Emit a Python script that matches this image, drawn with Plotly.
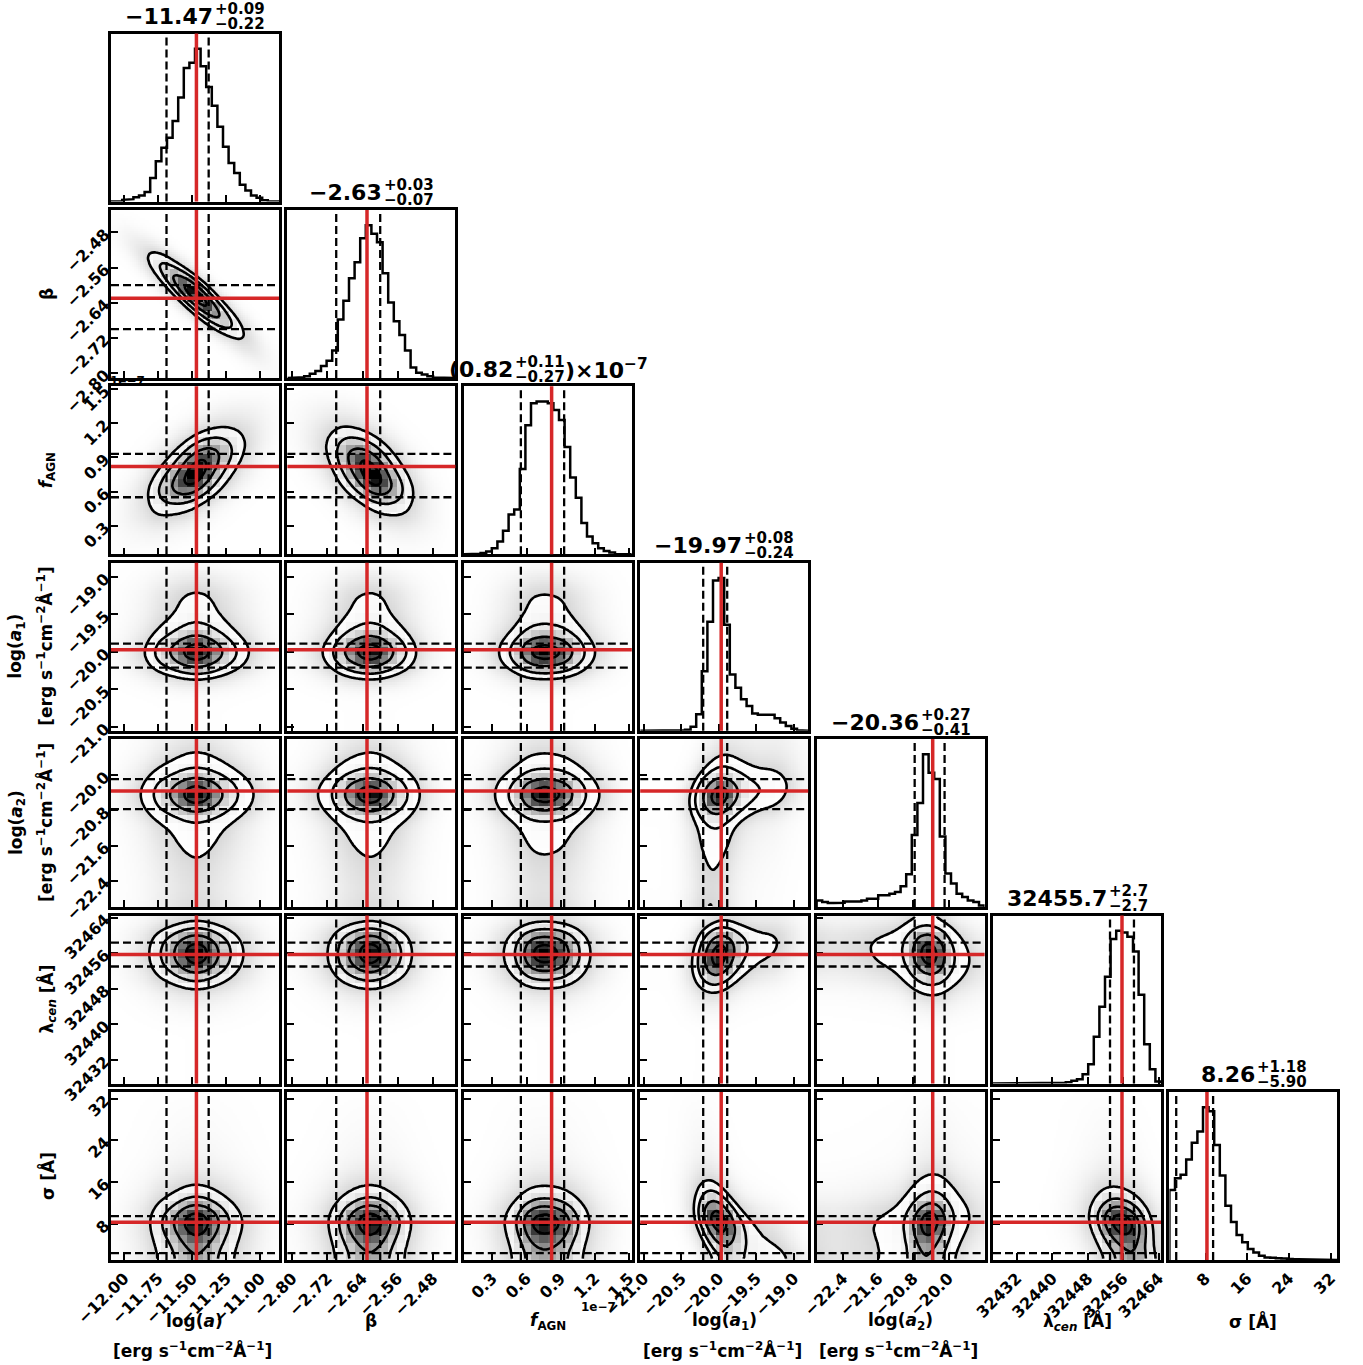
import math
import numpy as np
import plotly.graph_objects as go

W, H = 1363, 1365

# ---------------------------------------------------------------- data
# Posterior summaries: median, +err, -err (f_AGN in units of 1e-7)
MEDIANS = [-11.47, -2.63, 0.82, -19.97, -20.36, 32455.7, 8.26]
ERR_PLUS = [0.09, 0.03, 0.11, 0.08, 0.27, 2.7, 1.18]
ERR_MINUS = [0.22, 0.07, 0.27, 0.24, 0.41, 2.7, 5.90]
TITLE_MAIN = ["−11.47", "−2.63", "(0.82", "−19.97", "−20.36", "32455.7", "8.26"]
TITLE_PLUS = ["+0.09", "+0.03", "+0.11", "+0.08", "+0.27", "+2.7", "+1.18"]
TITLE_MINUS = ["−0.22", "−0.07", "−0.27", "−0.24", "−0.41", "−2.7", "−5.90"]
F_AGN_OFFSET = "1e−7"

AXIS_RANGES = [(-12.098, -10.863), (-2.811, -2.429), (0.049, 1.524),
               (-21.05, -18.81), (-23.0, -19.18), (32426.6, 32464.5), (1.05, 33.3)]

TICK_VALUES = [[-12.00, -11.75, -11.50, -11.25, -11.00],
               [-2.80, -2.72, -2.64, -2.56, -2.48],
               [0.3, 0.6, 0.9, 1.2, 1.5],
               [-21.0, -20.5, -20.0, -19.5, -19.0],
               [-22.4, -21.6, -20.8, -20.0],
               [32432, 32440, 32448, 32456, 32464],
               [8, 16, 24, 32]]
TICK_TEXT = [["−12.00", "−11.75", "−11.50", "−11.25", "−11.00"],
             ["−2.80", "−2.72", "−2.64", "−2.56", "−2.48"],
             ["0.3", "0.6", "0.9", "1.2", "1.5"],
             ["−21.0", "−20.5", "−20.0", "−19.5", "−19.0"],
             ["−22.4", "−21.6", "−20.8", "−20.0"],
             ["32432", "32440", "32448", "32456", "32464"],
             ["8", "16", "24", "32"]]

# 1D histogram counts, 30 equal bins spanning each axis range
HIST_LOG_A = [0, 0, 5, 7, 13, 18, 28, 70, 120, 160, 190, 240, 310, 398, 413,
              455, 403, 341, 285, 223, 163, 115, 85, 50, 33, 18, 11, 4, 1, 0]
HIST_BETA = [0, 2, 2, 5, 12, 20, 35, 50, 80, 170, 225, 290, 337, 407, 445,
             420, 395, 305, 220, 165, 125, 80, 30, 15, 10, 5, 1, 0, 0, 0]
HIST_F_AGN = [0, 1, 2, 4, 8, 18, 38, 70, 118, 133, 253, 383, 448, 453, 453,
              448, 428, 398, 318, 228, 168, 93, 53, 33, 18, 10, 5, 1, 0, 0]
HIST_LOG_A1 = [0, 0, 0, 0, 0, 0, 0, 1, 3, 12, 50, 180, 330, 455, 463,
               321, 170, 130, 95, 75, 52, 48, 48, 48, 38, 25, 14, 6, 1, 0]
HIST_LOG_A2 = [20, 15, 12, 12, 13, 17, 17, 17, 20, 25, 25, 35, 35, 40, 45,
               62, 98, 215, 310, 455, 400, 382, 210, 100, 70, 40, 30, 20, 15, 5]
HIST_LAM_CEN = [0, 0, 0, 0, 0, 0, 0, 0, 0, 0, 0, 0, 2, 4, 8,
                13, 28, 58, 140, 230, 320, 433, 458, 453, 440, 396, 266, 118, 43, 6]
HIST_SIGMA = [207, 242, 252, 297, 347, 380, 452, 440, 340, 250, 160, 112, 74, 52, 32,
              22, 12, 7, 6, 5, 4, 3, 2, 2, 1, 1, 1, 1, 0, 0]
HISTS = [HIST_LOG_A, HIST_BETA, HIST_F_AGN, HIST_LOG_A1, HIST_LOG_A2, HIST_LAM_CEN, HIST_SIGMA]

# pairwise correlation (x parameter, y parameter, rho)
CORRELATIONS = [(0, 1, -0.99), (0, 2, 0.65), (1, 2, -0.60),
                (0, 3, 0.0), (1, 3, 0.0), (2, 3, 0.0),
                (0, 4, 0.0), (1, 4, 0.0), (2, 4, 0.0), (3, 4, 0.35),
                (0, 5, 0.0), (1, 5, 0.0), (2, 5, 0.0), (3, 5, 0.3), (4, 5, -0.15),
                (0, 6, 0.0), (1, 6, 0.0), (2, 6, 0.0), (3, 6, -0.6), (4, 6, 0.2), (5, 6, -0.3)]

UNIT = "[erg s<sup>−1</sup>cm<sup>−2</sup>Å<sup>−1</sup>]"
AXIS_LABELS = ["log(<i>a</i>)", "β", "<i>f</i><sub>AGN</sub>",
               "log(<i>a</i><sub>1</sub>)", "log(<i>a</i><sub>2</sub>)",
               "λ<sub><i>cen</i></sub> [Å]", "σ [Å]"]
HAS_UNIT = [True, False, False, True, True, False, False]

# ---------------------------------------------------------------- layout constants
NPAR = 7
PANEL = 168.0
STEP = 176.4
LEFT0 = 111.0
TOP0 = 33.5
RED = "#d62728"
FONT = "DejaVu Sans"
NF = 80          # fine grid cells per axis for 2D densities
NB = 20          # coarse (shading) bins per axis
SMOOTH = 3.5     # 2D smoothing kernel width, in fine cells
MASS_LEVELS = [0.5, 1.0, 1.5, 2.0]   # contour levels in sigma units


def px_x(x):
    return x / W


def px_y(y):
    return 1.0 - y / H


# ---------------------------------------------------------------- density helpers
_ZS = np.linspace(-7.0, 7.0, 3001)
_CDF = 0.5 * (1.0 + np.vectorize(math.erf)(_ZS / math.sqrt(2.0)))


def norm_ppf(p):
    return np.interp(np.clip(p, 1e-7, 1 - 1e-7), _CDF, _ZS)


def smooth1d(a, sigma, axis):
    rad = int(3 * sigma)
    kern = np.exp(-0.5 * (np.arange(-rad, rad + 1) / sigma) ** 2)
    kern /= kern.sum()
    pad = [(0, 0)] * a.ndim
    pad[axis] = (rad, rad)
    ap = np.pad(a, pad, mode="symmetric")
    return np.apply_along_axis(lambda v: np.convolve(v, kern, mode="valid"), axis, ap)


def marginal(k, n):
    lo, hi = AXIS_RANGES[k]
    counts = np.asarray(HISTS[k], float)
    edges = np.linspace(lo, hi, len(counts) + 1)
    centers = 0.5 * (edges[:-1] + edges[1:])
    cells = np.linspace(lo, hi, n + 1)
    xc = 0.5 * (cells[:-1] + cells[1:])
    dens = smooth1d(np.interp(xc, centers, counts), 1.5, 0)
    dens = np.maximum(dens, 1e-4 * dens.max())
    cdf = (np.cumsum(dens) - 0.5 * dens) / dens.sum()
    return xc, dens, norm_ppf(cdf)


def joint(i, j, rho):
    xc, fx, zx = marginal(i, NF)
    yc, fy, zy = marginal(j, NF)
    ZX, ZY = np.meshgrid(zx, zy)
    r2 = rho * rho
    cop = np.exp(-(r2 * (ZX ** 2 + ZY ** 2) - 2 * rho * ZX * ZY) / (2 * (1 - r2))) / np.sqrt(1 - r2)
    J = np.outer(fy, fx) * cop
    J = smooth1d(smooth1d(J, SMOOTH, 0), SMOOTH, 1)
    return xc, yc, J / J.sum()


def sigma_map(J):
    flat = J.ravel()
    order = np.argsort(flat)[::-1]
    cum = np.cumsum(flat[order])
    cum /= cum[-1]
    M = np.empty_like(flat)
    M[order] = cum
    M = M.reshape(J.shape)
    return np.sqrt(-2.0 * np.log(np.clip(1.0 - M, 1e-12, 1.0)))


# ---------------------------------------------------------------- figure
fig = go.Figure()
layout = dict(width=W, height=H, autosize=False, margin=dict(l=0, r=0, t=0, b=0, autoexpand=False),
              paper_bgcolor="white", plot_bgcolor="white", showlegend=False, template="none")
shapes = []
annotations = []
tickfont = dict(family=FONT, size=16, color="black", weight="bold")
corr = {(a, b): r for a, b, r in CORRELATIONS}
dash = dict(color="black", width=2.3, dash="8px,4px")
redline = dict(color=RED, width=3.5)

k = 0
for r in range(NPAR):
    for c in range(r + 1):
        k += 1
        sfx = "" if k == 1 else str(k)
        xname, yname = f"x{sfx}", f"y{sfx}"
        x0 = LEFT0 + c * STEP
        y0 = TOP0 + r * STEP
        xa = dict(domain=[px_x(x0), px_x(x0 + PANEL)], range=list(AXIS_RANGES[c]),
                  anchor=yname, automargin=False, showline=True, mirror=True, linecolor="black",
                  linewidth=2.6, ticks="inside", ticklen=7, tickwidth=2, tickcolor="black",
                  tickvals=TICK_VALUES[c], ticktext=TICK_TEXT[c], showticklabels=(r == NPAR - 1),
                  tickangle=-45, tickfont=tickfont, showgrid=False, zeroline=False)
        ya = dict(domain=[px_y(y0 + PANEL), px_y(y0)], anchor=xname, automargin=False,
                  showline=True, mirror=True, linecolor="black", linewidth=2.6,
                  showgrid=False, zeroline=False)

        lo_c = MEDIANS[c] - ERR_MINUS[c]
        hi_c = MEDIANS[c] + ERR_PLUS[c]

        if r == c:
            counts = np.asarray(HISTS[c], float)
            edges = np.linspace(AXIS_RANGES[c][0], AXIS_RANGES[c][1], len(counts) + 1)
            sx = np.repeat(edges, 2)
            sy = np.concatenate([[0.0], np.repeat(counts, 2), [0.0]])
            fig.add_trace(go.Scatter(x=sx, y=sy, mode="lines", line=dict(color="black", width=2.5),
                                     xaxis=xname, yaxis=yname, hoverinfo="skip"))
            ya.update(range=[0, 1.1 * counts.max()], ticks="", showticklabels=False)
            for v in (lo_c, hi_c):
                shapes.append(dict(type="line", xref=xname, yref=f"{yname} domain", x0=v, x1=v,
                                   y0=0, y1=1, line=dash))
            shapes.append(dict(type="line", xref=xname, yref=f"{yname} domain", x0=MEDIANS[c],
                               x1=MEDIANS[c], y0=0, y1=1, line=redline))
        else:
            xc, yc, J = joint(c, r, corr[(c, r)])
            S = sigma_map(J)
            blocks = J.reshape(NB, NF // NB, NB, NF // NB).mean(axis=(1, 3))
            fb = blocks / blocks.max()
            dark_block = np.kron(fb ** 2, np.ones((NF // NB, NF // NB)))
            inside = S <= MASS_LEVELS[-1]
            outer = J[inside].min()
            haze = 0.16 * np.clip(J / outer, 0, 1) ** 0.6
            dark = np.where(inside, dark_block, np.maximum(haze, dark_block))
            fig.add_trace(go.Heatmap(x=xc, y=yc, z=dark, zmin=0, zmax=1,
                                     colorscale=[[0, "white"], [1, "black"]], showscale=False,
                                     xaxis=xname, yaxis=yname, hoverinfo="skip"))
            fig.add_trace(go.Contour(x=xc, y=yc, z=S, autocontour=False,
                                     contours=dict(start=MASS_LEVELS[0], end=MASS_LEVELS[-1],
                                                   size=0.5, coloring="none"),
                                     line=dict(color="black", width=2.6), showscale=False,
                                     xaxis=xname, yaxis=yname, hoverinfo="skip"))
            ya.update(range=list(AXIS_RANGES[r]), ticks="inside", ticklen=7, tickwidth=2,
                      tickcolor="black", tickvals=TICK_VALUES[r], ticktext=TICK_TEXT[r],
                      showticklabels=(c == 0), tickangle=-45, tickfont=tickfont)
            lo_r = MEDIANS[r] - ERR_MINUS[r]
            hi_r = MEDIANS[r] + ERR_PLUS[r]
            for v in (lo_c, hi_c):
                shapes.append(dict(type="line", xref=xname, yref=f"{yname} domain", x0=v, x1=v,
                                   y0=0, y1=1, line=dash))
            for v in (lo_r, hi_r):
                shapes.append(dict(type="line", xref=f"{xname} domain", yref=yname, x0=0, x1=1,
                                   y0=v, y1=v, line=dash))
            shapes.append(dict(type="line", xref=xname, yref=f"{yname} domain", x0=MEDIANS[c],
                               x1=MEDIANS[c], y0=0, y1=1, line=redline))
            shapes.append(dict(type="line", xref=f"{xname} domain", yref=yname, x0=0, x1=1,
                               y0=MEDIANS[r], y1=MEDIANS[r], line=redline))

        layout[f"xaxis{sfx}"] = xa
        layout[f"yaxis{sfx}"] = ya


# ---------------------------------------------------------------- titles
ADV = {"−": 0.838, "+": 0.838, ".": 0.380, "(": 0.457, ")": 0.457, "×": 0.838}


def text_width(s, size):
    return sum(ADV.get(ch, 0.696) for ch in s) * size


MAIN_SIZE, SCRIPT_SIZE = 22, 15


def ann(x, y, text, size, xanchor="center", yanchor="middle", angle=0):
    annotations.append(dict(x=px_x(x), y=px_y(y), xref="paper", yref="paper", text=text,
                            showarrow=False, xanchor=xanchor, yanchor=yanchor, textangle=angle,
                            font=dict(family=FONT, size=size, color="black"), borderpad=0))


for c in range(NPAR):
    center = LEFT0 + c * STEP + PANEL / 2
    top = TOP0 + c * STEP
    main_w = text_width(TITLE_MAIN[c], MAIN_SIZE)
    scr_w = max(text_width(TITLE_PLUS[c], SCRIPT_SIZE), text_width(TITLE_MINUS[c], SCRIPT_SIZE))
    tail = ")×10" if c == 2 else ""
    tail_w = text_width(tail, MAIN_SIZE) + (text_width("−7", MAIN_SIZE * 0.7) if tail else 0)
    total = main_w + scr_w + tail_w
    split = center - total / 2 + main_w
    ann(split, top - 17, f"<b>{TITLE_MAIN[c]}</b>", MAIN_SIZE, xanchor="right")
    ann(split, top - 24.5, f"<b>{TITLE_PLUS[c]}</b>", SCRIPT_SIZE, xanchor="left")
    ann(split, top - 9.5, f"<b>{TITLE_MINUS[c]}</b>", SCRIPT_SIZE, xanchor="left")
    if tail:
        ann(split + scr_w + 1, top - 17, f"<b>{tail}<sup>−7</sup></b>", MAIN_SIZE, xanchor="left")

# ---------------------------------------------------------------- axis labels
LABEL_SIZE = 17
for c in range(NPAR):
    cx = LEFT0 + c * STEP + PANEL / 2
    ann(cx, 1321, f"<b>{AXIS_LABELS[c]}</b>", LABEL_SIZE)
    if HAS_UNIT[c]:
        ann(cx - 2, 1350, f"<b>{UNIT}</b>", LABEL_SIZE)

for r in range(1, NPAR):
    cy = TOP0 + r * STEP + PANEL / 2
    if HAS_UNIT[r]:
        ann(17, cy, f"<b>{AXIS_LABELS[r]}</b>", LABEL_SIZE, angle=-90)
        ann(45, cy, f"<b>{UNIT}</b>", LABEL_SIZE, angle=-90)
    else:
        ann(47, cy, f"<b>{AXIS_LABELS[r]}</b>", LABEL_SIZE, angle=-90)

# offset text for the f_AGN axes
ann(127, 381, f"<b>{F_AGN_OFFSET}</b>", 12)
ann(598, 1307, f"<b>{F_AGN_OFFSET}</b>", 12)

layout["shapes"] = shapes
layout["annotations"] = annotations
fig.update_layout(**layout)
fig.write_html("out.html")
